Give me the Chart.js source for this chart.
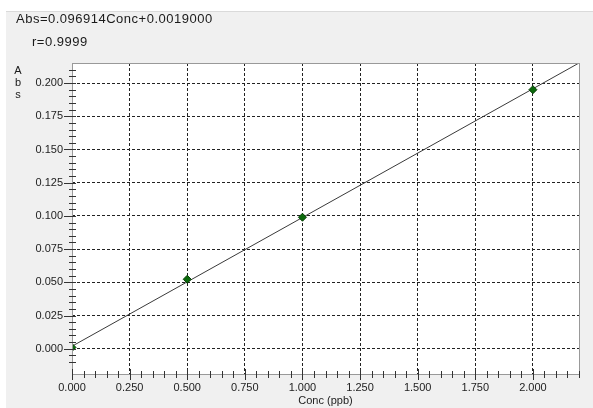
<!DOCTYPE html>
<html lang="en">
  <head>
    <meta charset="utf-8" />
    <title>Calibration curve</title>
    <script src="https://cdn.jsdelivr.net/npm/chart.js@4.4.1/dist/chart.umd.min.js"></script>
    <style>
      * {
        margin: 0;
        padding: 0;
      }
      body {
        background: #ffffff;
        width: 593px;
        height: 408px;
        overflow: hidden;
      }
    </style>
  </head>
  <body>
    <canvas id="chart" width="593" height="408"></canvas>

    <script>
      // standards
      const concX = [0, 0.5, 1.0, 2.0];
      const absY = [0.001, 0.0523, 0.099, 0.195];

      // fitted line end points
      const fitX = [0, 2.2];
      const fitY = [0.0019, 0.2151];

      const equationText = "Abs=0.096914Conc+0.0019000";
      const rText = "r=0.9999";
      const yTitle = ["A", "b", "s"];
      const xTitle = "Conc (ppb)";

      const isMultiple = (v, step) => Math.abs(v / step - Math.round(v / step)) < 1e-6;

      const panelPlugin = {
        id: "panel",
        beforeDraw(chart) {
          const { ctx, chartArea: a } = chart;
          ctx.save();
          ctx.fillStyle = "#ffffff";
          ctx.fillRect(0, 0, chart.width, chart.height);
          ctx.fillStyle = "#f0f0f0";
          ctx.fillRect(6, 12, chart.width - 6, chart.height - 12);
          ctx.fillStyle = "#dadada";
          ctx.fillRect(6, 11, chart.width - 6, 1);
          ctx.fillStyle = "#ffffff";
          ctx.fillRect(a.left, a.top, a.right - a.left, a.bottom - a.top);
          ctx.restore();
        },
        afterDraw(chart) {
          const { ctx, chartArea: a } = chart;
          const xs = chart.scales.x;
          const ys = chart.scales.y;
          ctx.save();
          // frame
          ctx.strokeStyle = "#999999";
          ctx.lineWidth = 1;
          ctx.strokeRect(a.left + 0.5, a.top + 0.5, a.right - a.left, a.bottom - a.top);
          // tick marks crossing the axes
          ctx.strokeStyle = "#333333";
          ctx.beginPath();
          ys.ticks.forEach((t) => {
            if (!isMultiple(t.value, 0.005)) return;
            const p = Math.round(ys.getPixelForValue(t.value)) + 0.5;
            const major = isMultiple(t.value, 0.025);
            ctx.moveTo(a.left - (major ? 8 : 3), p);
            ctx.lineTo(a.left + 4, p);
          });
          xs.ticks.forEach((t) => {
            if (!isMultiple(t.value, 0.05)) return;
            const p = Math.round(xs.getPixelForValue(t.value)) + 0.5;
            const major = isMultiple(t.value, 0.25);
            ctx.moveTo(p, a.bottom - (major ? 5 : 3));
            ctx.lineTo(p, a.bottom + (major ? 6 : 4));
          });
          ctx.stroke();
          // texts
          ctx.fillStyle = "#1a1a1a";
          ctx.font = "13px 'Liberation Sans', Arial, sans-serif";
          ctx.letterSpacing = "0.5px";
          ctx.textAlign = "left";
          ctx.textBaseline = "alphabetic";
          ctx.fillText(equationText, 16, 23);
          ctx.fillText(rText, 32, 46);
          ctx.letterSpacing = "0px";
          ctx.font = "11px 'Liberation Sans', Arial, sans-serif";
          ctx.textAlign = "center";
          yTitle.forEach((ch, i) => ctx.fillText(ch, 18, 74 + i * 12));
          ctx.restore();
        },
      };

      new Chart(document.getElementById("chart"), {
        type: "scatter",
        data: {
          datasets: [
            {
              type: "line",
              data: fitX.map((x, i) => ({ x: x, y: fitY[i] })),
              borderColor: "#3a3a3a",
              borderWidth: 1,
              pointRadius: 0,
              fill: false,
              clip: 0,
              order: 2,
            },
            {
              data: concX.map((x, i) => ({ x: x, y: absY[i] })),
              pointStyle: "rectRot",
              pointRadius: 4,
              backgroundColor: "#0b6a0b",
              borderColor: "#064006",
              borderWidth: 1,
              clip: 0,
              order: 1,
            },
          ],
        },
        options: {
          responsive: false,
          animation: false,
          devicePixelRatio: 1,
          layout: { padding: { left: 0, top: 63, right: 14, bottom: 0 } },
          plugins: {
            legend: { display: false },
            tooltip: { enabled: false },
          },
          scales: {
            x: {
              type: "linear",
              position: "bottom",
              min: 0,
              max: 2.2,
              afterFit: (s) => {
                s.height = 34;
              },
              border: { display: false, dash: [3, 2] },
              grid: {
                drawTicks: false,
                lineWidth: 1,
                color: (c) =>
                  c.tick && c.tick.value > 0 && isMultiple(c.tick.value, 0.25)
                    ? "#222222"
                    : "rgba(0,0,0,0)",
              },
              ticks: {
                stepSize: 0.05,
                autoSkip: false,
                maxRotation: 0,
                padding: 7,
                color: "#222222",
                font: { family: "'Liberation Sans', Arial, sans-serif", size: 11 },
                callback: (v) => (isMultiple(v, 0.25) ? Number(v).toFixed(3) : ""),
              },
              title: {
                display: true,
                text: xTitle,
                color: "#222222",
                padding: 0,
                font: { family: "'Liberation Sans', Arial, sans-serif", size: 11 },
              },
            },
            y: {
              type: "linear",
              position: "left",
              min: -0.019,
              max: 0.2151,
              afterFit: (s) => {
                s.width = 72;
              },
              border: { display: false, dash: [3, 2] },
              grid: {
                drawTicks: false,
                lineWidth: 1,
                color: (c) =>
                  c.tick && isMultiple(c.tick.value, 0.025)
                    ? "#222222"
                    : "rgba(0,0,0,0)",
              },
              ticks: {
                stepSize: 0.005,
                autoSkip: false,
                padding: 9,
                color: "#222222",
                font: { family: "'Liberation Sans', Arial, sans-serif", size: 11 },
                callback: (v) => (isMultiple(v, 0.025) ? Number(v).toFixed(3) : ""),
              },
            },
          },
        },
        plugins: [panelPlugin],
      });
    </script>
  </body>
</html>
